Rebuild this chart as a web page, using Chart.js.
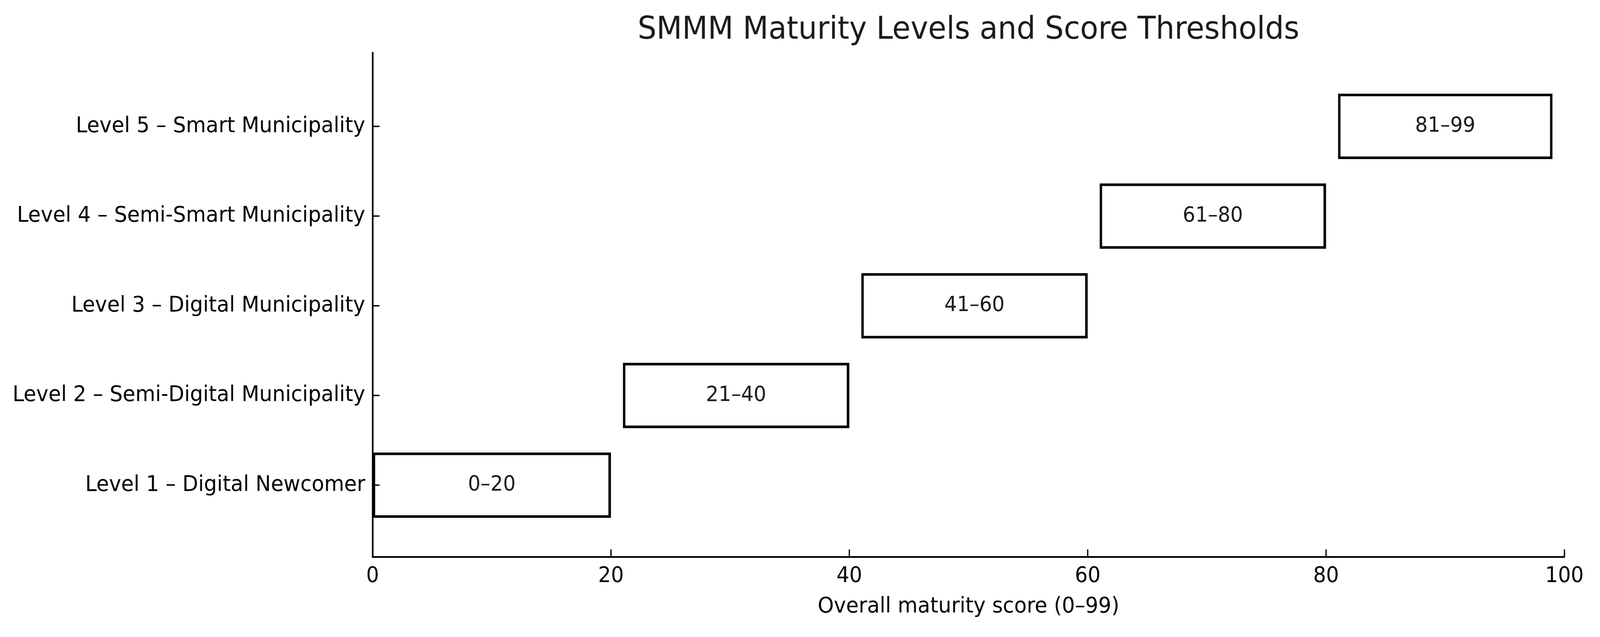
<!DOCTYPE html>
<html>
<head>
<meta charset="utf-8">
<script src="https://cdn.jsdelivr.net/npm/chart.js@4.4.1/dist/chart.umd.min.js"></script>
<style>
    html, body { margin: 0; padding: 0; background: #ffffff; overflow: hidden; }
    #wrap { width: 4363px; height: 1630px; transform-origin: 0 0; }
</style>
</head>
<body>
<div id="wrap"><canvas id="maturityChart" width="4363" height="1630"></canvas></div>
<script>
const levelLabels = [
    'Level 1 – Digital Newcomer',
    'Level 2 – Semi-Digital Municipality',
    'Level 3 – Digital Municipality',
    'Level 4 – Semi-Smart Municipality',
    'Level 5 – Smart Municipality'
];
const levelPositions = [0, 1, 2, 3, 4];
const scoreFrom = [0, 21, 41, 61, 81];
const scoreTo = [20, 40, 60, 80, 99];
const scoreTicks = [0, 20, 40, 60, 80, 100];

document.addEventListener('DOMContentLoaded', () => {
    fitToWindow();
    initMaturityChart();
});

// the chart is laid out at 4363 x 1630; squeeze it into the real window if smaller
function fitToWindow() {
    const wrap = document.getElementById('wrap');
    const sx = Math.min(1, window.innerWidth / 4363);
    const sy = Math.min(1, window.innerHeight / 1630);
    wrap.style.transform = `scale(${sx}, ${sy})`;
}

// matplotlib-style ticks pointing into the plot
const inwardTicks = {
    id: 'inwardTicks',
    afterDatasetsDraw(chart) {
        const { ctx, chartArea, scales } = chart;
        const len = 19;
        ctx.save();
        ctx.strokeStyle = '#000';
        ctx.lineWidth = 3.5;
        scales.x.ticks.forEach(t => {
            const px = scales.x.getPixelForValue(t.value);
            ctx.beginPath();
            ctx.moveTo(px, chartArea.bottom);
            ctx.lineTo(px, chartArea.bottom - len);
            ctx.stroke();
        });
        scales.y.ticks.forEach(t => {
            const py = scales.y.getPixelForValue(t.value);
            ctx.beginPath();
            ctx.moveTo(chartArea.left, py);
            ctx.lineTo(chartArea.left + len, py);
            ctx.stroke();
        });
        ctx.restore();
    }
};

const rangeLabels = {
    id: 'rangeLabels',
    afterDatasetsDraw(chart) {
        const { ctx } = chart;
        const meta = chart.getDatasetMeta(0);
        ctx.save();
        ctx.font = '54px "DejaVu Sans"';
        ctx.fillStyle = '#1a1a1a';
        ctx.textAlign = 'center';
        ctx.textBaseline = 'middle';
        meta.data.forEach((bar, i) => {
            const c = bar.getCenterPoint();
            ctx.fillText(`${scoreFrom[i]}–${scoreTo[i]}`, c.x, c.y);
        });
        ctx.restore();
    }
};

function initMaturityChart() {
    const ctx = document.getElementById('maturityChart');
    if (!ctx) return;

    Chart.defaults.font.family = '"DejaVu Sans"';
    Chart.defaults.color = '#000';

    const data = {
        datasets: [{
            data: levelPositions.map((p, i) => ({ y: p, x: [scoreFrom[i], scoreTo[i]] })),
            backgroundColor: '#ffffff',
            borderColor: '#000000',
            borderWidth: 7,
            borderSkipped: false,
            barPercentage: 0.73,
            categoryPercentage: 1
        }]
    };

    const options = {
        indexAxis: 'y',
        responsive: false,
        devicePixelRatio: 1,
        animation: false,
        layout: {
            padding: { left: 0, right: 97, top: 0, bottom: 0 }
        },
        plugins: {
            legend: { display: false },
            tooltip: { enabled: false },
            title: {
                display: true,
                text: 'SMMM Maturity Levels and Score Thresholds',
                fullSize: false,
                color: '#1a1a1a',
                font: { size: 81, weight: 'normal' },
                padding: { top: 29, bottom: 9 }
            }
        },
        scales: {
            x: {
                type: 'linear',
                position: 'bottom',
                min: 0,
                max: 100,
                afterBuildTicks: axis => {
                    axis.ticks = scoreTicks.map(v => ({ value: v }));
                },
                afterFit: axis => { axis.height = 205; },
                grid: { display: false, drawTicks: false },
                border: { display: true, color: '#000', width: 4.5 },
                ticks: {
                    padding: 17,
                    color: '#000',
                    font: { size: 55 }
                },
                title: {
                    display: true,
                    text: 'Overall maturity score (0–99)',
                    color: '#000',
                    font: { size: 56 },
                    padding: { top: 0, bottom: 44 }
                }
            },
            y: {
                type: 'linear',
                position: 'left',
                offset: false,
                min: -0.8,
                max: 4.82,
                afterBuildTicks: axis => {
                    axis.ticks = levelPositions.map(v => ({ value: v }));
                },
                afterFit: axis => { axis.width = 1016; },
                grid: { display: false, drawTicks: false, offset: false },
                border: { display: true, color: '#000', width: 4.5 },
                ticks: {
                    padding: 20,
                    color: '#000',
                    font: { size: 56 },
                    callback: v => levelLabels[v]
                }
            }
        }
    };

    new Chart(ctx, {
        type: 'bar',
        data: data,
        options: options,
        plugins: [inwardTicks, rangeLabels]
    });
}
</script>
</body>
</html>
